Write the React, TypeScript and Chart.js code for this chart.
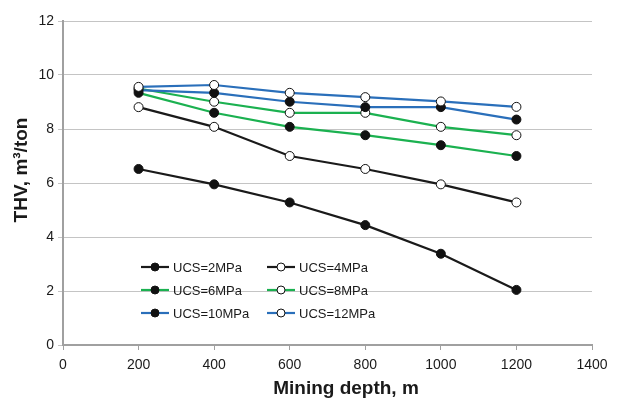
import React, { useEffect, useRef } from "react";
import { Chart, registerables } from "chart.js";

Chart.register(...registerables);

const depths = [200, 400, 600, 800, 1000, 1200];
const ucs2 = [6.52, 5.95, 5.28, 4.44, 3.38, 2.04];
const ucs4 = [8.81, 8.08, 7.0, 6.52, 5.95, 5.28];
const ucs6 = [9.34, 8.6, 8.08, 7.77, 7.4, 7.0];
const ucs8 = [9.5, 9.01, 8.6, 8.6, 8.08, 7.77];
const ucs10 = [9.44, 9.34, 9.01, 8.81, 8.81, 8.35];
const ucs12 = [9.56, 9.63, 9.34, 9.18, 9.02, 8.82];

const seriesLabels = ["UCS=2MPa", "UCS=4MPa", "UCS=6MPa", "UCS=8MPa", "UCS=10MPa", "UCS=12MPa"];
const seriesValues = [ucs2, ucs4, ucs6, ucs8, ucs10, ucs12];
const seriesFilled = [true, false, true, false, true, false];

const BLACK = "#1a1a1a";
const GREEN = "#1bb150";
const BLUE = "#2a6fba";
const lineColors = [BLACK, BLACK, GREEN, GREEN, BLUE, BLUE];

const xTitle = "Mining depth, m";
const yTitle = "THV, m\u00B3/ton";
const FONT = "'Liberation Sans', Arial, Helvetica, sans-serif";

export default function App() {
  const ref = useRef<HTMLCanvasElement | null>(null);

  useEffect(() => {
    const canvas = ref.current;
    if (!canvas) return;

    const legendPlugin = {
      id: "customLegend",
      afterDatasetsDraw(chart: any) {
        const ctx = chart.ctx;
        ctx.save();
        const rows = [267, 290, 313];
        const cols = [141, 267];
        seriesLabels.forEach((label, i) => {
          const r = Math.floor(i / 2);
          const c = i % 2;
          const x = cols[c];
          const y = rows[r];
          ctx.strokeStyle = lineColors[i];
          ctx.lineWidth = 2.2;
          ctx.beginPath();
          ctx.moveTo(x, y);
          ctx.lineTo(x + 28, y);
          ctx.stroke();
          ctx.beginPath();
          ctx.arc(x + 14, y, 4, 0, Math.PI * 2);
          ctx.fillStyle = seriesFilled[i] ? "#111" : "#fff";
          ctx.fill();
          ctx.lineWidth = 1;
          ctx.strokeStyle = "#111";
          ctx.stroke();
          ctx.fillStyle = "#1a1a1a";
          ctx.font = `13px ${FONT}`;
          ctx.textBaseline = "middle";
          ctx.textAlign = "left";
          ctx.fillText(label, x + 32, y + 1);
        });
        ctx.restore();
      },
      afterDraw(chart: any) {
        const ctx = chart.ctx;
        ctx.save();
        ctx.fillStyle = "#1a1a1a";
        ctx.font = `bold 19px ${FONT}`;
        ctx.textAlign = "center";
        ctx.textBaseline = "middle";
        ctx.fillText(xTitle, 346, 389);
        ctx.translate(22, 170);
        ctx.rotate(-Math.PI / 2);
        ctx.fillText(yTitle, 0, 0);
        ctx.restore();
      },
    };

    const chart = new Chart(canvas, {
      type: "line",
      data: {
        datasets: seriesLabels.map((label, i) => ({
          label,
          data: depths.map((d, j) => ({ x: d, y: seriesValues[i][j] })),
          borderColor: lineColors[i],
          borderWidth: 2.2,
          pointRadius: 4.5,
          pointHoverRadius: 4.5,
          pointBorderWidth: 1,
          pointBorderColor: "#111",
          pointBackgroundColor: seriesFilled[i] ? "#111" : "#fff",
          tension: 0,
          fill: false,
          order: 6 - i,
        })),
      },
      options: {
        responsive: false,
        animation: false,
        layout: { padding: { top: 21, right: 38, left: 0, bottom: 0 } },
        plugins: {
          legend: { display: false },
          tooltip: { enabled: false },
        },
        scales: {
          x: {
            type: "linear",
            min: 0,
            max: 1400,
            ticks: {
              stepSize: 200,
              color: "#1a1a1a",
              font: { family: FONT, size: 14 },
              padding: 7,
              maxRotation: 0,
              callback: (v: any) => String(v),
            },
            grid: {
              drawOnChartArea: false,
              drawTicks: true,
              tickLength: 5,
              color: "#a0a0a0",
            },
            border: { color: "#a0a0a0", width: 2 },
            afterFit: (scale: any) => {
              scale.height = 57;
            },
          },
          y: {
            type: "linear",
            min: 0,
            max: 12,
            ticks: {
              stepSize: 2,
              color: "#1a1a1a",
              font: { family: FONT, size: 14 },
              padding: 4,
              callback: (v: any) => String(v),
            },
            grid: {
              color: "#c4c4c4",
              lineWidth: 1,
              drawTicks: true,
              tickLength: 5,
            },
            border: { color: "#a0a0a0", width: 2 },
            afterFit: (scale: any) => {
              scale.width = 63;
            },
          },
        },
      },
      plugins: [legendPlugin],
    });

    return () => chart.destroy();
  }, []);

  return (
    <div style={{ position: "absolute", left: 0, top: 0, width: 630, height: 402, background: "#fff" }}>
      <canvas ref={ref} width={630} height={402} />
    </div>
  );
}
